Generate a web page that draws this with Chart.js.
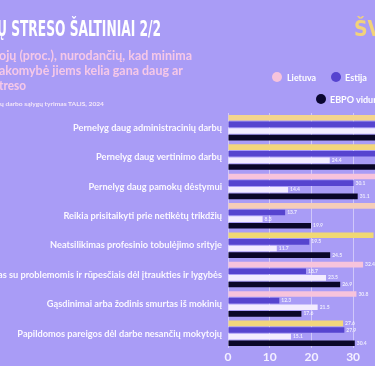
<!DOCTYPE html>
<html><head><meta charset="utf-8">
<script src="https://cdn.jsdelivr.net/npm/chart.js@4"></script>
<style>
html,body{margin:0;padding:0;width:375px;height:366px;overflow:hidden;background:#a99cf6;}
#wrap{position:relative;width:375px;height:366px;overflow:hidden;background:#a99cf6;}
canvas{position:absolute;left:0;top:0;}
.t{position:absolute;white-space:nowrap;transform-origin:0 0;line-height:1;}
.dot{position:absolute;border-radius:50%;}
</style></head><body>
<div id="wrap">
<canvas id="c" width="375" height="366"></canvas>
<div class="t" id="title" data-w="164" style="left:-3px;top:17px;font:bold 21px 'DejaVu Sans Condensed','DejaVu Sans';color:#ffffff;">Ų STRESO ŠALTINIAI 2/2</div>
<div class="t" id="logo" style="left:354px;top:17px;font:bold 21px 'DejaVu Sans Condensed','DejaVu Sans';color:#f2d27a;">ŠV</div>
<div class="t" data-w="193" style="left:-1px;top:47px;font:bold 13px Lato;color:#f6c8e8;">ojų (proc.), nurodančių, kad minima</div>
<div class="t" data-w="184" style="left:-1px;top:62px;font:bold 13px Lato;color:#f6c8e8;">akomybė jiems kelia gana daug ar</div>
<div class="t" data-w="27" style="left:-1px;top:77px;font:bold 13px Lato;color:#f6c8e8;">treso</div>
<div class="t" data-w="104" style="left:0px;top:100px;font:bold 6px Lato;color:#f3e6f8;">ų darbo sąlygų tyrimas TALIS, 2024</div>
<div class="dot" style="left:272px;top:72px;width:10px;height:10px;background:#f7c3dc;"></div>
<div class="t" data-w="29" style="left:287px;top:72px;font:bold 9px Lato;color:#ffffff;">Lietuva</div>
<div class="dot" style="left:331px;top:72px;width:10px;height:10px;background:#5644cf;"></div>
<div class="t" data-w="22" style="left:345px;top:72px;font:bold 9px Lato;color:#ffffff;">Estija</div>
<div class="dot" style="left:390px;top:72px;width:10px;height:10px;background:#f3ecff;"></div>
<div class="t" style="left:404px;top:72px;font:bold 9px Lato;color:#ffffff;">Latvija</div>
<div class="dot" style="left:316px;top:94px;width:10px;height:10px;background:#0a0630;"></div>
<div class="t" style="left:330px;top:94px;font:bold 9px Lato;color:#ffffff;">EBPO vidurkis</div>
</div>
<script>
const categories = [
  "Pernelyg daug administracinių darbų",
  "Pernelyg daug vertinimo darbų",
  "Pernelyg daug pamokų dėstymui",
  "Reikia prisitaikyti prie netikėtų trikdžių",
  "Neatsilikimas profesinio tobulėjimo srityje",
  "Susidorojimas su problemomis ir rūpesčiais dėl įtraukties ir lygybės",
  "Gąsdinimai arba žodinis smurtas iš mokinių",
  "Papildomos pareigos dėl darbe nesančių mokytojų"
];
const lietuva = [52.0, 50.0, 40.0, 38.0, 34.9, 32.4, 30.8, 27.6];
const estija  = [47.0, 44.0, 30.1, 13.7, 19.5, 18.7, 12.3, 27.9];
const latvija = [41.0, 24.4, 14.4, 8.3, 11.7, 23.5, 21.5, 15.1];
const ebpo    = [48.0, 45.0, 31.1, 19.9, 24.5, 26.9, 17.6, 30.4];
const xTicks  = [0, 10, 20, 30];
const seriesNames = ["Lietuva", "Estija", "Latvija", "EBPO vidurkis"];

document.querySelectorAll('.t[data-w]').forEach(el => {
  const w = el.getBoundingClientRect().width;
  const target = parseFloat(el.dataset.w);
  if (w > 0) el.style.transform = 'scaleX(' + (target / w) + ')';
});

const lietuvaColors = ['#f4d48e','#f2d67c','#f7c3dc','#f5cdb8','#f0d873','#f7c3dc','#f7c3dc','#f2d67c'];
const LABEL_FONT = 'bold 10px Lato';

const catLabels = {
  id: 'catLabels',
  afterDraw(chart) {
    const ctx = chart.ctx;
    const ys = chart.scales.y;
    ctx.save();
    ctx.font = LABEL_FONT;
    const k = 149 / ctx.measureText(categories[0]).width;
    ctx.fillStyle = '#fbf8ff';
    ctx.textAlign = 'right';
    ctx.textBaseline = 'middle';
    const xr = chart.chartArea.left - 6;
    ys.ticks.forEach((t, i) => {
      const y = ys.getPixelForTick(i);
      ctx.save();
      ctx.translate(xr, y);
      ctx.scale(k, 1);
      ctx.fillText(categories[i], 0, 0);
      ctx.restore();
    });
    ctx.restore();
  }
};

const valueLabels = {
  id: 'valueLabels',
  afterDatasetsDraw(chart) {
    const ctx = chart.ctx;
    ctx.save();
    ctx.font = 'bold 5px Lato';
    ctx.fillStyle = 'rgba(255,255,255,0.8)';
    ctx.textBaseline = 'middle';
    ctx.textAlign = 'left';
    chart.data.datasets.forEach((ds, di) => {
      chart.getDatasetMeta(di).data.forEach((el, i) => {
        const x = el.x + 2;
        if (x < chart.chartArea.right - 2) ctx.fillText(ds.data[i].toFixed(1), x, el.y);
      });
    });
    ctx.restore();
  }
};

new Chart(document.getElementById('c'), {
  type: 'bar',
  data: {
    labels: categories,
    datasets: [
      { label: seriesNames[0], data: lietuva, backgroundColor: lietuvaColors },
      { label: seriesNames[1], data: estija, backgroundColor: '#5644cf' },
      { label: seriesNames[2], data: latvija, backgroundColor: '#f3ecff' },
      { label: seriesNames[3], data: ebpo, backgroundColor: '#0a0628' }
    ]
  },
  options: {
    indexAxis: 'y',
    responsive: false,
    animation: false,
    layout: { padding: { top: 113, left: 0, right: 0, bottom: 0 } },
    datasets: { bar: { categoryPercentage: 0.9, barPercentage: 0.86 } },
    plugins: { legend: { display: false }, tooltip: { enabled: false } },
    scales: {
      x: {
        min: 0, max: 35.25,
        afterBuildTicks: s => { s.ticks = xTicks.map(v => ({ value: v })); },
        afterFit: s => { s.height = 18; },
        grid: { color: 'rgba(255,255,255,0.45)', drawTicks: false, lineWidth: 1 },
        border: { display: false },
        ticks: { color: '#f4f0ff', font: { family: 'Lato', weight: 'bold', size: 12 }, padding: 2, maxRotation: 0 }
      },
      y: {
        afterFit: s => { s.width = 228; },
        grid: { display: false, drawTicks: false },
        border: { display: false },
        ticks: { color: 'rgba(0,0,0,0)', font: { family: 'Lato', weight: 'bold', size: 10 }, padding: 6, autoSkip: false }
      }
    }
  },
  plugins: [valueLabels, catLabels]
});
</script>
</body></html>
